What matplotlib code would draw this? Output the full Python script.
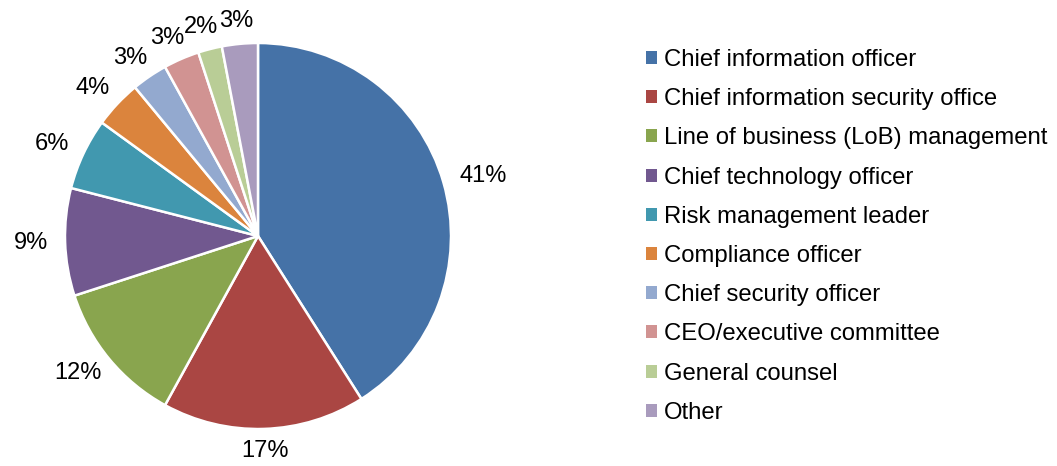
import numpy as np
import matplotlib.pyplot as plt
from matplotlib.patches import Patch

plt.rcParams['font.family'] = ['Liberation Sans', 'DejaVu Sans']

roles = ["Chief information officer", "Chief information security office",
         "Line of business (LoB) management", "Chief technology officer",
         "Risk management leader", "Compliance officer", "Chief security officer",
         "CEO/executive committee", "General counsel", "Other"]
shares = [41, 17, 12, 9, 6, 4, 3, 3, 2, 3]
colors = ["#4572A7", "#AA4643", "#89A54E", "#71588F", "#4198AF",
          "#DB843D", "#93A9CF", "#D19392", "#B9CD96", "#A99BBD"]

W, H = 1057, 466
fig = plt.figure(figsize=(W / 100, H / 100), dpi=100)

# pie centre ~ (258, 236) px, radius ~193 px
cx, cy, r = 258, 236, 193
ax = fig.add_axes([(cx - r) / W, (H - cy - r) / H, 2 * r / W, 2 * r / H])
wedges, texts = ax.pie(shares, colors=colors, startangle=90, counterclock=False,
                       labels=[f"{v}%" for v in shares], labeldistance=1.1,
                       wedgeprops=dict(edgecolor='white', linewidth=1.8),
                       textprops=dict(fontsize=17))
ax.set_xlim(-1, 1)
ax.set_ylim(-1, 1)
ax.set_aspect('equal')

# put each label just outside its wedge, like Excel's "outside end"
fig.canvas.draw()
rend = fig.canvas.get_renderer()
for w, t in zip(wedges, texts):
    ang = np.deg2rad((w.theta1 + w.theta2) / 2)
    ext = t.get_window_extent(rend)
    tw, th = ext.width / r, ext.height / r
    x = 1.09 * np.cos(ang) + 0.5 * tw * np.cos(ang)
    y = 1.06 * np.sin(ang) + 0.5 * th * np.sin(ang)
    t.set_position((x, y))
    t.set_horizontalalignment('center')
    t.set_verticalalignment('center')

handles = [Patch(facecolor=c, edgecolor='none') for c in colors]
fig.legend(handles, roles, loc='upper left', bbox_to_anchor=(646 / W, 1 - 49 / H),
           frameon=False, fontsize=17.2, handlelength=0.46, handleheight=0.46,
           handletextpad=0.3, labelspacing=0.72, borderaxespad=0, borderpad=0)

fig.savefig("out.png", dpi=100)
